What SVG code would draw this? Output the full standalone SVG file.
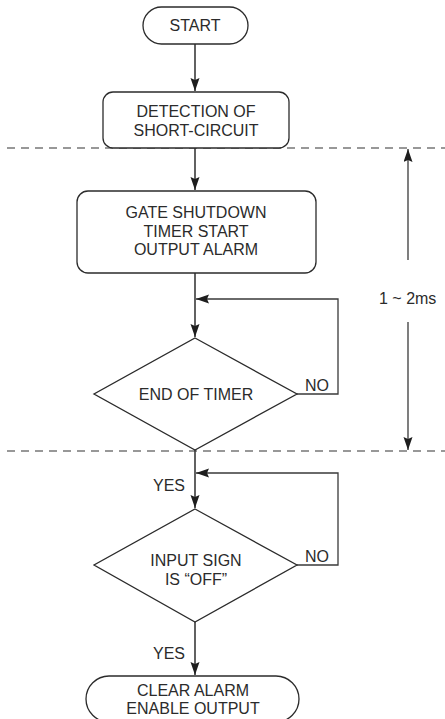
<svg xmlns="http://www.w3.org/2000/svg" width="445" height="719" viewBox="0 0 445 719">
<style>
.n{fill:#fff;stroke:#2b2b2b;stroke-width:1.3}
.t{font-family:"Liberation Sans",Arial,sans-serif;font-size:16px;fill:#2b2b2b;text-anchor:middle}
.l{font-family:"Liberation Sans",Arial,sans-serif;font-size:16px;fill:#2b2b2b}
.c{fill:none;stroke:#3a3a3a;stroke-width:1.3}
.m{fill:none;stroke:#3a3a3a;stroke-width:1.6}
.d{fill:none;stroke:#777;stroke-width:1.3;stroke-dasharray:8 6}
</style>
<defs>
<marker id="a" markerWidth="14" markerHeight="10" refX="13" refY="4.5" orient="auto" markerUnits="userSpaceOnUse">
<path d="M0,0 L13,4.5 L0,9 L2,4.5 z" fill="#1e1e1e"/>
</marker>
</defs>
<g id="dashes">
<line class="d" x1="7" y1="148" x2="445" y2="148"/>
<line class="d" x1="7" y1="451" x2="445" y2="451"/>
</g>
<g id="connectors">
<line class="m" x1="195" y1="44" x2="195" y2="91" marker-end="url(#a)"/>
<line class="m" x1="195" y1="148" x2="195" y2="190" marker-end="url(#a)"/>
<line class="m" x1="195" y1="273" x2="195" y2="337" marker-end="url(#a)"/>
<polyline class="c" points="297,394 338,394 338,299 196,299" marker-end="url(#a)"/>
<line class="m" x1="195" y1="450" x2="195" y2="508" marker-end="url(#a)"/>
<polyline class="c" points="297,565 338,565 338,473 196,473" marker-end="url(#a)"/>
<line class="m" x1="195" y1="622" x2="195" y2="675" marker-end="url(#a)"/>
<line class="c" x1="408" y1="260" x2="408" y2="149" marker-end="url(#a)"/>
<line class="c" x1="408" y1="322" x2="408" y2="450" marker-end="url(#a)"/>
<text class="l" x="153" y="491">YES</text>
<text class="l" x="153" y="659">YES</text>
<text class="l" x="305" y="391">NO</text>
<text class="l" x="305" y="562">NO</text>
<text class="l" x="379" y="304">1 ~ 2ms</text>
</g>
<g id="start">
<rect class="n" x="143" y="7" width="105" height="37" rx="18.5"/>
<text class="t" x="195" y="31">START</text>
</g>
<g id="detection">
<rect class="n" x="103" y="92" width="186" height="56" rx="10"/>
<text class="t" x="196" y="117">DETECTION OF</text>
<text class="t" x="196" y="136">SHORT-CIRCUIT</text>
</g>
<g id="gate">
<rect class="n" x="77" y="191" width="239" height="82" rx="11"/>
<text class="t" x="196" y="218">GATE SHUTDOWN</text>
<text class="t" x="196" y="237">TIMER START</text>
<text class="t" x="196" y="255">OUTPUT ALARM</text>
</g>
<g id="endtimer">
<polygon class="n" points="195,338 297,394 195,450 94,394"/>
<text class="t" x="196" y="400">END OF TIMER</text>
</g>
<g id="inputsign">
<polygon class="n" points="195,509 297,565 195,622 94,565"/>
<text class="t" x="196" y="566">INPUT SIGN</text>
<text class="t" x="196" y="585">IS “OFF”</text>
</g>
<g id="clear">
<rect class="n" x="86" y="676" width="213" height="46" rx="23"/>
<text class="t" x="193" y="696">CLEAR ALARM</text>
<text class="t" x="193" y="714">ENABLE OUTPUT</text>
</g>
</svg>
